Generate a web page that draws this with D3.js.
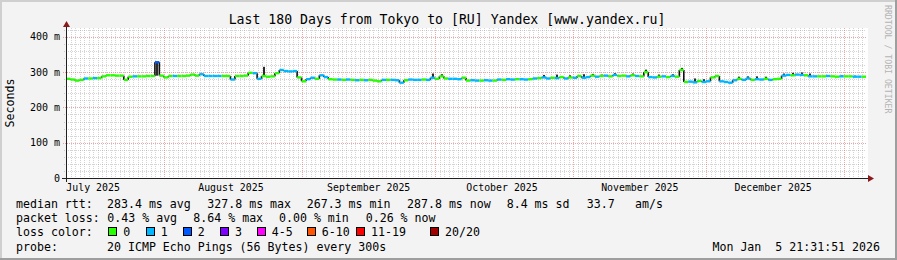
<!DOCTYPE html>
<html><head><meta charset="utf-8">
<script src="https://cdn.jsdelivr.net/npm/d3@7"></script>
<style>
html,body{margin:0;padding:0;background:#f3f3f3;}
svg{display:block;}
text{font-family:"DejaVu Sans Mono",monospace;fill:#000;white-space:pre;}
</style></head><body>
<svg id="c" width="897" height="260"></svg>
<script>
// ---------- data ----------
const chartTitle = "Last 180 Days from Tokyo to [RU] Yandex [www.yandex.ru]";
const yAxisTitle = "Seconds";
const watermark = "RRDTOOL / TOBI OETIKER";
const startTime = "2025-07-09T21:31:51";
const endTime = "2026-01-05T21:31:51";
const yTickValues = [0, 100, 200, 300, 400];
const yTickLabels = ["0", "100 m", "200 m", "300 m", "400 m"];
const monthStarts = ["2025-07-01", "2025-08-01", "2025-09-01", "2025-10-01", "2025-11-01", "2025-12-01", "2026-01-01"];
const monthLabels = ["July 2025", "August 2025", "September 2025", "October 2025", "November 2025", "December 2025", ""];
// daily median RTT (ms)
const medianRtt = [
 281,279,276,278,282,282,283,283,288,291, 291,290,290,278,287,288,288,288,289,289,
 328,290,285,289,289,289,289,290,293,290, 294,289,289,289,289,289,289,279,289,289,
 290,298,297,281,289,287,288,297,306,303, 302,303,285,274,280,284,281,291,286,280,
 279,279,278,279,278,277,278,277,278,276, 274,278,278,278,277,270,277,279,278,278,
 279,278,284,281,288,282,281,281,280,284, 276,277,276,276,277,276,276,279,278,280,
 279,280,280,279,280,282,283,285,282,284, 283,286,282,285,284,289,284,286,290,287,
 289,290,288,292,289,290,288,291,289,288, 300,286,285,287,288,286,289,287,306,272,
 273,271,275,272,274,285,289,274,272,270, 277,281,278,282,278,280,279,281,278,280,
 281,290,292,291,293,292,291,288,288,288, 288,289,288,287,288,288,288,287,287,287
];
// daily packet loss (pings lost out of 20)
const lossCount = [
 0,0,0,0,1,0,1,0,0,0, 0,0,0,0,0,1,0,0,0,0,
 2,0,0,0,1,0,0,0,0,0, 1,1,1,1,1,0,0,1,0,0,
 0,0,1,1,0,0,0,0,1,1, 1,1,0,0,1,1,0,1,1,0,
 0,1,0,1,0,1,0,1,0,0, 0,1,0,1,1,1,0,1,1,1,
 0,1,1,0,0,0,1,1,1,0, 0,1,1,0,1,1,0,1,0,1,
 1,0,1,1,0,1,0,1,1,0, 1,0,1,0,1,0,1,1,0,1,
 0,1,0,1,0,0,1,0,1,0, 0,1,1,0,1,0,1,0,0,0,
 1,1,0,1,1,0,0,1,1,1, 1,0,1,1,0,1,1,0,1,0,
 0,1,1,0,1,1,0,1,1,0, 0,1,0,0,1,0,0,1,1,0
];
// smoke (ping spread): [day index, low ms, high ms]
const smokeSpikes = [
 [20,290,326],[44,289,315],[82,284,296],[84,288,294],[107,285,292],[110,283,293],[113,285,291],
 [116,284,294],[118,290,295],[120,289,293],[123,292,297],[127,291,296],[130,300,307],[133,287,293],
 [136,289,294],[138,306,312],[141,271,282],[143,272,280],[146,289,292],[151,281,287],[153,282,288],
 [155,280,288],[157,281,287],[161,290,296],[163,291,298],[165,292,299],[167,288,296],[174,288,291],[177,287,290]
];
const lossCategories = ["0", "1", "2", "3", "4-5", "6-10", "11-19", "20/20"];
const lossColors = ["#26ff00", "#00b8ff", "#0059ff", "#7e00ff", "#ff00ff", "#ff5500", "#ff0000", "#a10000"];
const rttStats = ["283.4 ms avg", "327.8 ms max", "267.3 ms min", "287.8 ms now", "8.4 ms sd", "33.7", "am/s"];
const lossStats = ["0.43 % avg", "8.64 % max", "0.00 % min", "0.26 % now"];
const probeText = "20 ICMP Echo Pings (56 Bytes) every 300s";
const timestamp = "Mon Jan  5 21:31:51 2026";

// ---------- layout ----------
const W = 897, H = 260;
const X0 = 66, X1 = 866, YB = 178, YT = 28;
const rttStatX = [107, 207.3, 306.7, 407, 506.7, 586.7, 635];
const lossStatX = [107.3, 193.3, 279, 365.7];
const legendBoxX = [108.3, 145.7, 182.7, 220, 256.7, 306.7, 356, 430];

const svg = d3.select("#c");
const parse = s => new Date(s);
const t0 = parse(startTime), t1 = parse(endTime);
const x = d3.scaleTime().domain([t0, t1]).range([X0, X1]);
const y = d3.scaleLinear().domain([0, 425]).range([YB, YT]);
const crisp = v => Math.round(v) + 0.5;

// background + frame
svg.append("rect").attr("width", W).attr("height", H).attr("fill", "#f3f3f3");
svg.append("rect").attr("x", 0).attr("y", 0).attr("width", W).attr("height", 2).attr("fill", "#cfcfcf");
svg.append("rect").attr("x", 0).attr("y", 0).attr("width", 2).attr("height", H).attr("fill", "#cfcfcf");
svg.append("rect").attr("x", 0).attr("y", H - 2).attr("width", W).attr("height", 2).attr("fill", "#9e9e9e");
svg.append("rect").attr("x", W - 2).attr("y", 0).attr("width", 2).attr("height", H).attr("fill", "#9e9e9e");

// canvas
svg.append("rect").attr("x", X0).attr("y", YT).attr("width", X1 - X0 + 2).attr("height", YB - YT).attr("fill", "#fff");

const minorCol = "rgba(143,143,143,0.38)", majorCol = "rgba(222,80,80,0.5)";
const grid = svg.append("g").attr("shape-rendering", "crispEdges");
// minor vertical (daily)
const monthDates = monthStarts.map(s => { const p = s.split("-"); return new Date(+p[0], +p[1] - 1, +p[2]); });
const monthSet = new Set(monthDates.map(d => +d));
d3.timeDay.range(t0, t1).filter(d => !monthSet.has(+d) && x(d) > X0 + 1).forEach(d => {
  grid.append("line").attr("x1", crisp(x(d))).attr("x2", crisp(x(d))).attr("y1", YT).attr("y2", YB)
    .attr("stroke", minorCol).attr("stroke-dasharray", "1,1");
});
// minor horizontal
d3.range(20, 425, 20).filter(v => v % 100 !== 0).forEach(v => {
  grid.append("line").attr("x1", X0 - 2).attr("x2", X1).attr("y1", crisp(y(v))).attr("y2", crisp(y(v)))
    .attr("stroke", minorCol).attr("stroke-dasharray", "1,1");
});
// major vertical (months)
monthDates.filter(d => d > t0 && d < t1).forEach(d => {
  grid.append("line").attr("x1", crisp(x(d))).attr("x2", crisp(x(d))).attr("y1", YT).attr("y2", YB + 2)
    .attr("stroke", majorCol).attr("stroke-dasharray", "1,1");
});
// major horizontal
yTickValues.filter(v => v > 0).forEach(v => {
  grid.append("line").attr("x1", X0 - 3).attr("x2", X1).attr("y1", crisp(y(v))).attr("y2", crisp(y(v)))
    .attr("stroke", majorCol).attr("stroke-dasharray", "1,1");
});

// y tick labels
svg.append("g").selectAll("text").data(yTickValues).join("text")
  .attr("x", 60).attr("y", d => y(d) + 3.5).attr("text-anchor", "end")
  .attr("font-size", "10px").text((d, i) => yTickLabels[i]);

// month labels (centered at month start + 15 days)
monthDates.forEach((d, i) => {
  if (!monthLabels[i]) return;
  const c = d3.timeDay.offset(d, 15);
  svg.append("text").attr("x", x(c)).attr("y", 191).attr("text-anchor", "middle")
    .attr("font-size", "9.9px").text(monthLabels[i]);
});

// data marks
const days = medianRtt.map((v, i) => ({
  t0: d3.timeDay.offset(t0, i),
  t1: i === medianRtt.length - 1 ? t1 : d3.timeDay.offset(t0, i + 1),
  v, loss: lossCount[i]
}));
const lossIndex = l => l <= 3 ? l : l <= 5 ? 4 : l <= 10 ? 5 : l <= 19 ? 6 : 7;
const marks = svg.append("g");
// smoke
marks.selectAll("rect.smoke").data(smokeSpikes).join("rect").attr("class", "smoke")
  .attr("x", d => Math.round((x(days[d[0]].t0) + x(days[d[0]].t1)) / 2) - 1)
  .attr("width", 2)
  .attr("y", d => y(d[2])).attr("height", d => y(d[1]) - y(d[2]))
  .attr("fill", "#2a2a2a");
// connectors
marks.selectAll("line.conn").data(days.slice(1)).join("line").attr("class", "conn")
  .attr("x1", d => x(d.t0)).attr("x2", d => x(d.t0))
  .attr("y1", (d, i) => y(days[i].v)).attr("y2", d => y(d.v))
  .attr("stroke", "#111").attr("stroke-width", 1.6);
// median segments
marks.selectAll("line.med").data(days).join("line").attr("class", "med")
  .attr("x1", d => x(d.t0)).attr("x2", d => x(d.t1))
  .attr("y1", d => y(d.v)).attr("y2", d => y(d.v))
  .attr("stroke", d => lossColors[lossIndex(d.loss)]).attr("stroke-width", 2.4);

// axes
const ax = svg.append("g").attr("shape-rendering", "crispEdges");
ax.append("line").attr("x1", X0 + 0.5).attr("x2", X0 + 0.5).attr("y1", YT - 4).attr("y2", YB + 4).attr("stroke", "#202020");
ax.append("line").attr("x1", X0 - 4).attr("x2", X1 + 4).attr("y1", YB + 0.5).attr("y2", YB + 0.5).attr("stroke", "#202020");
svg.append("path").attr("d", `M${X0 + 0.5},${YT - 7} L${X0 - 3},${YT - 1} L${X0 + 4},${YT - 1} Z`).attr("fill", "#8b1a1a");
svg.append("path").attr("d", `M${X1 + 8},${YB + 0.5} L${X1 + 2},${YB - 3} L${X1 + 2},${YB + 4} Z`).attr("fill", "#8b1a1a");

// title & labels
svg.append("text").attr("x", 447).attr("y", 23.5).attr("text-anchor", "middle").attr("font-size", "13.2px").text(chartTitle);
svg.append("text").attr("transform", `translate(14,${(YT + YB) / 2}) rotate(-90)`).attr("text-anchor", "middle")
  .attr("font-size", "11.6px").text(yAxisTitle);
svg.append("text").attr("transform", `translate(885,5) rotate(90)`).attr("text-anchor", "start")
  .attr("font-size", "8.2px").style("fill", "#b4b4b4").text(watermark);

// legend rows
const rowY = [208.3, 222.3, 236.3, 250.7];
const fs = "11.6px";
const lg = svg.append("g").attr("font-size", fs);
lg.append("text").attr("x", 16).attr("y", rowY[0]).text("median rtt:");
rttStats.forEach((s, i) => lg.append("text").attr("x", rttStatX[i]).attr("y", rowY[0]).text(s));
lg.append("text").attr("x", 16).attr("y", rowY[1]).text("packet loss:");
lossStats.forEach((s, i) => lg.append("text").attr("x", lossStatX[i]).attr("y", rowY[1]).text(s));
lg.append("text").attr("x", 16).attr("y", rowY[2]).text("loss color:");
lossCategories.forEach((c, i) => {
  lg.append("rect").attr("x", Math.round(legendBoxX[i]) + 0.5).attr("y", 227.5).attr("width", 8).attr("height", 8)
    .attr("fill", lossColors[i]).attr("stroke", "#000").attr("stroke-width", 1);
  lg.append("text").attr("x", legendBoxX[i] + 15).attr("y", rowY[2]).text(c);
});
lg.append("text").attr("x", 16).attr("y", rowY[3]).text("probe:");
lg.append("text").attr("x", 107).attr("y", rowY[3]).text(probeText);
lg.append("text").attr("x", 880).attr("y", rowY[3]).attr("text-anchor", "end").text(timestamp);
</script>
</body></html>
